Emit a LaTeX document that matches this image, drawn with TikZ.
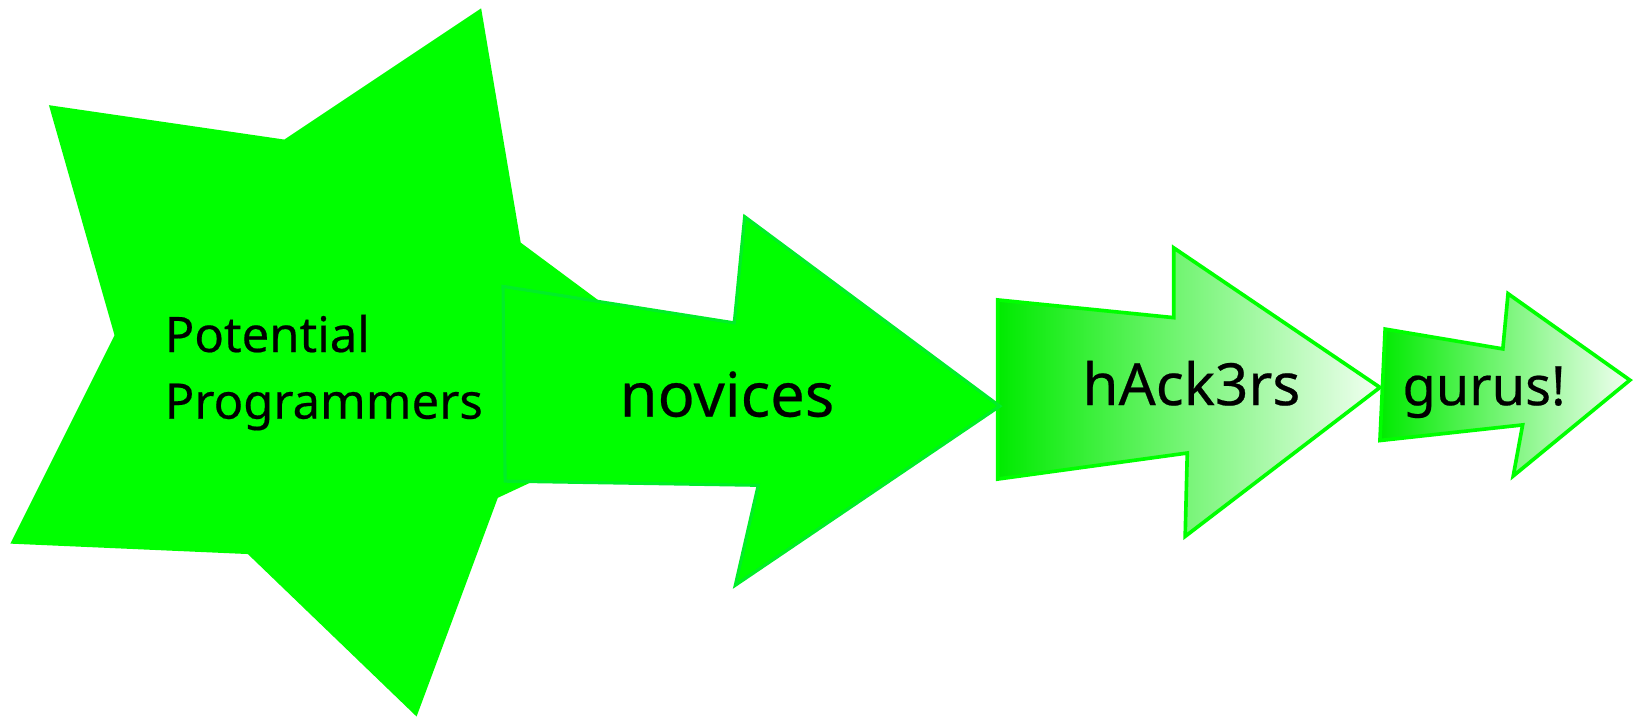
\documentclass[tikz,border=0pt]{standalone}
\usepackage{fontspec}
\setmainfont{Noto Sans}[FakeBold=0.4]
\begin{document}
\begin{tikzpicture}[x=1pt,y=-1pt]
\definecolor{pure}{RGB}{0,255,0}
\definecolor{edgegreen}{RGB}{0,238,40}
\definecolor{gdark}{RGB}{0,235,0}
\definecolor{gmid}{RGB}{145,246,145}
\definecolor{glight}{RGB}{242,255,242}
\tikzset{
  starshape/.style={fill=pure},
  solidarrow/.style={fill=pure, draw=edgegreen, line width=3pt, line join=miter},
  fadearrow/.style={left color=gdark, middle color=gmid, right color=glight, draw=pure, line width=3.5pt, line join=miter},
  lbl/.style={inner sep=0pt, text=black}
}
\useasboundingbox (0,0) rectangle (1568,690);
% gurus arrow
\path[fadearrow] (1330,316) -- (1443,335) -- (1448,282) -- (1565,365) -- (1453,457) -- (1462,408) -- (1325,423) -- cycle;
% hackers arrow
\path[fadearrow] (958,288) -- (1127,305) -- (1127,238) -- (1325,372) -- (1138,515) -- (1140,435) -- (958,460) -- cycle;
% star
\path[starshape] (47,101) -- (273,134) -- (462,8) -- (500,233) -- (694,377) -- (478,478) -- (400,688) -- (238,532) -- (10,522) -- (110,322) -- cycle;
% novices arrow
\path[solidarrow] (483,275) -- (705,310) -- (715,208) -- (960,390) -- (706,562) -- (728,466) -- (485,462) -- cycle;
% labels
\node[lbl, anchor=base west, font=\fontsize{47}{63}\selectfont] (pot) at (158,338) {Potential};
\node[lbl, anchor=base west, font=\fontsize{47}{63}\selectfont] (prog) at (158,402) {Programmers};
\node[lbl, anchor=base, font=\fontsize{59}{70}\selectfont] (nov) at (698,400) {novices};
\node[lbl, anchor=base, font=\fontsize{56}{66}\selectfont] (hack) at (1144,389) {hAck3rs};
\node[lbl, anchor=base, font=\fontsize{52}{62}\selectfont] (guru) at (1425,389) {gurus!};
\end{tikzpicture}
\end{document}
